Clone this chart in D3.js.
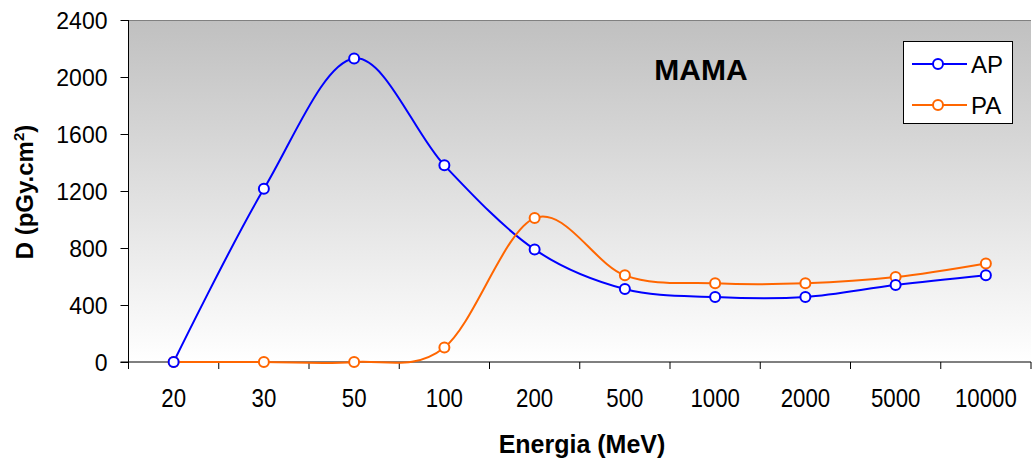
<!DOCTYPE html>
<html><head><meta charset="utf-8">
<script src="https://cdn.jsdelivr.net/npm/d3@7/dist/d3.min.js"></script>
<style>body{margin:0;background:#fff}svg{display:block;font-family:"Liberation Sans",Arial,sans-serif}</style>
</head><body>
<svg id="c" width="1032" height="459"></svg>
<script>
const categories = ["20","30","50","100","200","500","1000","2000","5000","10000"];
const apValues = [0,1215,2130,1380,790,512,456,456,540,608];
const paValues = [0,0,0,102,1010,608,552,552,596,692];
const yTicks = [0,400,800,1200,1600,2000,2400];
const seriesNames = ["AP","PA"];
const seriesColors = ["#0000ff","#ff6600"];

const svg = d3.select("#c");
const L=128.5, R=1031, T=20, B=362;
const x = d3.scaleBand().domain(categories).range([L,R]);
const y = d3.scaleLinear().domain([0,2400]).range([B,T]);

const defs = svg.append("defs");
const g = defs.append("linearGradient").attr("id","bg").attr("x1",0).attr("y1",0).attr("x2",0).attr("y2",1);
g.append("stop").attr("offset","0%").attr("stop-color","#c0c0c0");
g.append("stop").attr("offset","100%").attr("stop-color","#ffffff");
svg.append("rect").attr("x",L).attr("y",T).attr("width",R-L).attr("height",B-T).attr("fill","url(#bg)");
svg.append("line").attr("x1",L).attr("x2",R).attr("y1",T+0.5).attr("y2",T+0.5).attr("stroke","#808080").attr("stroke-width",1);

// Y axis
const ya = svg.append("g").attr("transform",`translate(${L},0)`)
  .call(d3.axisLeft(y).tickValues(yTicks).tickSize(8).tickPadding(13).tickFormat(d3.format("d")));
ya.select(".domain").remove();
ya.selectAll("line").attr("stroke","#000");
ya.selectAll("text").attr("font-size",23).attr("fill","#000").attr("dy","0.36em")
  .attr("font-family","Liberation Sans, Arial, sans-serif");
svg.append("line").attr("x1",L).attr("x2",L).attr("y1",T).attr("y2",B+7).attr("stroke","#000");

// X axis
svg.append("line").attr("x1",L-8).attr("x2",R).attr("y1",B).attr("y2",B).attr("stroke","#000");
const bounds = categories.map(c=>x(c)).concat([R]);
svg.selectAll(".xt").data(bounds).enter().append("line")
  .attr("x1",d=>d).attr("x2",d=>d).attr("y1",B).attr("y2",B+7).attr("stroke","#000");
svg.selectAll(".xl").data(categories).enter().append("text")
  .attr("transform",d=>`translate(${x(d)+x.bandwidth()/2},407) scale(0.89,1)`)
  .attr("text-anchor","middle").attr("font-size",25).text(d=>d);

// Labels
svg.append("text").attr("x",582).attr("y",453).attr("text-anchor","middle")
  .attr("font-size",25).attr("font-weight","bold").text("Energia (MeV)");
const yl = svg.append("text").attr("transform","translate(33,192) rotate(-90)")
  .attr("text-anchor","middle").attr("font-size",24).attr("font-weight","bold");
yl.append("tspan").text("D (pGy.cm");
yl.append("tspan").attr("font-size",15).attr("dy",-9).text("2");
yl.append("tspan").attr("dy",9).text(")");

svg.append("text").attr("x",701).attr("y",80).attr("text-anchor","middle")
  .attr("font-size",30).attr("font-weight","bold").text("MAMA");

// Lines
const cx = c=>x(c)+x.bandwidth()/2;
const line = d3.line().x(d=>cx(d[0])).y(d=>y(d[1])).curve(d3.curveCatmullRom.alpha(0));
[apValues,paValues].forEach((vals,i)=>{
  const data = categories.map((c,j)=>[c,vals[j]]);
  svg.append("path").datum(data).attr("d",line).attr("fill","none")
    .attr("stroke",seriesColors[i]).attr("stroke-width",2);
});
[paValues,apValues].forEach((vals,k)=>{
  const i = k===0?1:0;
  svg.selectAll(null).data(categories.map((c,j)=>[c,vals[j]])).enter().append("circle")
    .attr("cx",d=>cx(d[0])).attr("cy",d=>y(d[1])).attr("r",5)
    .attr("fill","#fff").attr("stroke",seriesColors[i]).attr("stroke-width",2);
});

// Legend
svg.append("rect").attr("x",903.5).attr("y",41.5).attr("width",109).attr("height",82)
  .attr("fill","#fff").attr("stroke","#000");
seriesNames.forEach((n,i)=>{
  const yy = 64 + i*41;
  svg.append("line").attr("x1",912).attr("x2",967).attr("y1",yy).attr("y2",yy)
    .attr("stroke",seriesColors[i]).attr("stroke-width",2);
  svg.append("circle").attr("cx",938).attr("cy",yy).attr("r",5).attr("fill","#fff")
    .attr("stroke",seriesColors[i]).attr("stroke-width",2);
  svg.append("text").attr("x",971).attr("y",yy+8.5).attr("font-size",24).text(n);
});
</script>
</body></html>
